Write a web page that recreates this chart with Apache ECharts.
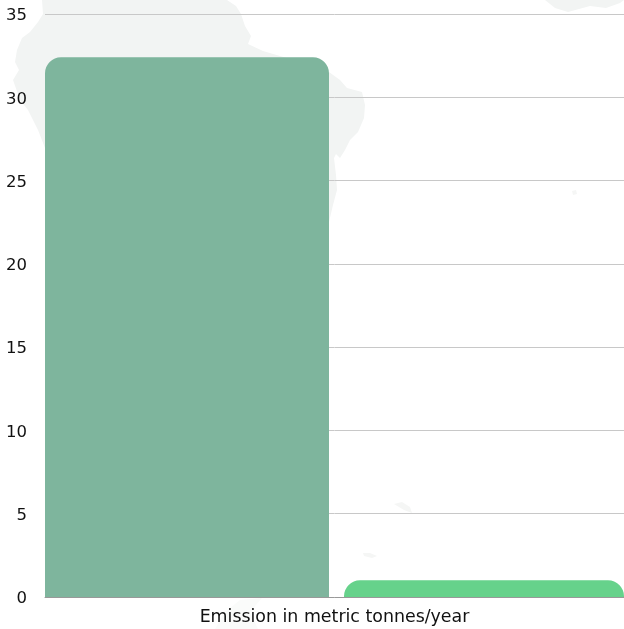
<!DOCTYPE html>
<html><head><meta charset="utf-8">
<style>html,body{margin:0;padding:0;background:#fff}#c{width:624px;height:629px}</style>
<script src="https://cdn.jsdelivr.net/npm/echarts@6/dist/echarts.min.js"></script>
</head><body><div id="c"></div>
<script>
const category = ["Emission in metric tonnes/year"];
const seriesNames = ["Average", "Target"];
const seriesValues = [32.4, 1.0];
const seriesColors = ["#7eb59d", "#66d28b"];
const yTicks = {min: 0, max: 35, interval: 5};
const mapColor = "#f2f4f3";
const faintColor = "#f5f6f5";
const mapShapes = [
 [[42,0],[227,0],[236,6],[241,14],[245,26],[251,36],[248,44],[263,51],[280,56],[300,62],[329,72],[340,80],[347,88],[362,92],[365,105],[364,118],[358,132],[350,140],[345,150],[340,158],[336,154],[334,158],[336,175],[337,190],[333,205],[329,222],[45,222],[45,148],[38,130],[28,110],[20,100],[13,80],[19,70],[15,62],[17,50],[22,38],[30,32],[38,22],[43,14]],
 [[545,0],[624,0],[620,3],[606,8],[590,6],[568,12],[555,8]]
];
const faintShapes = [
 [[572,191],[576,190],[577,194],[573,195]],
 [[394,504],[402,502],[410,507],[412,513],[404,510]],
 [[363,553],[370,553],[377,556],[372,558],[364,556]]
];
const bottomShape = [[215,629],[225,612],[240,600],[262,598],[250,612],[258,629]];
const chart = echarts.init(document.getElementById('c'), null, {renderer:'canvas'});
const poly = (p,c)=>({type:'polygon',z:-1,silent:true,shape:{points:p},style:{fill:c}});
chart.setOption({
 animation:false,
 graphic: mapShapes.map(p=>poly(p,mapColor)).concat(faintShapes.map(p=>poly(p,faintColor)),[poly(bottomShape,'#fafbfa')]),
 grid:{left:45,right:0,top:14,bottom:32,containLabel:false},
 xAxis:{type:'category',data:category,axisTick:{show:false},
  axisLine:{show:true,lineStyle:{color:'#999',width:1}},
  axisLabel:{color:'#111',fontFamily:'DejaVu Sans',fontSize:17.4,margin:11,padding:[1,0,0,0]}},
 yAxis:{type:'value',min:yTicks.min,max:yTicks.max,interval:yTicks.interval,
  axisLine:{show:false},axisTick:{show:false},
  axisLabel:{formatter:'{a|{value}}',margin:18,
   rich:{a:{color:'#111',fontFamily:'DejaVu Sans',fontSize:16.5,padding:[4,0,0,0]}}},
  splitLine:{lineStyle:{color:'#c8c8c8',width:1}}},
 series: seriesValues.map((v,i)=>({
  type:'bar',name:seriesNames[i],data:[v],barWidth:i===0?284:280,barGap:'5.28%',
  itemStyle:{color:seriesColors[i],borderRadius:[16,16,0,0]}
 }))
});
</script></body></html>
